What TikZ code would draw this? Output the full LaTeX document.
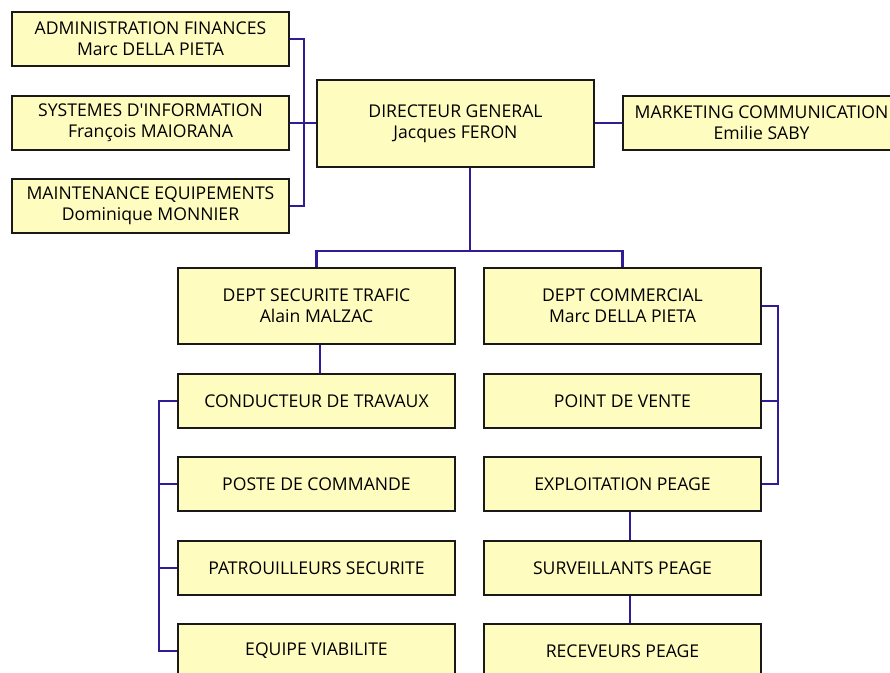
\documentclass[tikz,border=0pt]{standalone}
\usepackage{fontspec}
\setmainfont{Open Sans}[Ligatures=TeXOff]
\usetikzlibrary{calc}
\definecolor{boxfill}{HTML}{FFFCC0}
\definecolor{linkcol}{HTML}{331A96}
\tikzset{
  box/.style={draw=black!90, line width=2pt, fill=boxfill, minimum width=277pt, align=center, inner sep=0pt, font=\fontsize{17.6}{21}\selectfont},
  small/.style={box, minimum height=54pt},
  tall/.style={box, minimum height=76pt},
  link/.style={draw=linkcol, line width=2.3pt}
}
\begin{document}
\begin{tikzpicture}[x=1pt, y=-1pt]
\useasboundingbox (0,0) rectangle (890,672);
\clip (0,0) rectangle (890,672);
\fill[white] (0,0) rectangle (890,672);
% nodes
\node[small] (admin) at (150.5,39) {ADMINISTRATION FINANCES\\Marc DELLA PIETA};
\node[small] (sys) at (150.5,123) {SYSTEMES D'INFORMATION\\François MAIORANA};
\node[small] (maint) at (150.5,206) {MAINTENANCE EQUIPEMENTS\\Dominique MONNIER};
\node[box, minimum height=87pt] (dg) at (455.5,123.5) {DIRECTEUR GENERAL\\Jacques FERON};
\node[small] (mk) at (761.5,123) {MARKETING COMMUNICATION\\Emilie SABY};
\node[tall] (dsec) at (316.5,306) {DEPT SECURITE TRAFIC\\Alain MALZAC};
\node[tall] (dcom) at (622.5,306) {DEPT COMMERCIAL\\Marc DELLA PIETA};
\node[small] (cond) at (316.5,401) {CONDUCTEUR DE TRAVAUX};
\node[small] (poste) at (316.5,484) {POSTE DE COMMANDE};
\node[small] (patr) at (316.5,568) {PATROUILLEURS SECURITE};
\node[small] (equipe) at (316.5,651) {EQUIPE VIABILITE};
\node[small] (pdv) at (622.5,401) {POINT DE VENTE};
\node[small] (expl) at (622.5,484) {EXPLOITATION PEAGE};
\node[small] (surv) at (622.5,568) {SURVEILLANTS PEAGE};
\node[small] (recv) at (622.5,651) {RECEVEURS PEAGE};
% bus coordinates
\coordinate (lbus) at (304,0);
\coordinate (j) at (470,251);
\coordinate (sbus) at (159,0);
\coordinate (cbus) at (778,0);
% connectors
\draw[link] (admin.east) -| (lbus |- maint.east) -- (maint.east);
\draw[link] (sys.east) -- (dg.west |- sys.east);
\draw[link] (dg.east |- mk.west) -- (mk.west);
\draw[link] (j |- dg.south) -- (j);
\draw[link] (dsec.north) |- (j) -| (dcom.north);
\draw[link] ($(dsec.south)+(3.5,0)$) -- ($(cond.north)+(3.5,0)$);
\draw[link] (cond.west) -| (sbus |- equipe.west) -- (equipe.west);
\draw[link] (poste.west) -- (sbus |- poste.west);
\draw[link] (patr.west) -- (sbus |- patr.west);
\draw[link] (dcom.east) -| (cbus |- expl.east) -- (expl.east);
\draw[link] (pdv.east) -- (cbus |- pdv.east);
\draw[link] ($(expl.south)+(7.5,0)$) -- ($(surv.north)+(7.5,0)$);
\draw[link] ($(surv.south)+(7.5,0)$) -- ($(recv.north)+(7.5,0)$);
\end{tikzpicture}
\end{document}
